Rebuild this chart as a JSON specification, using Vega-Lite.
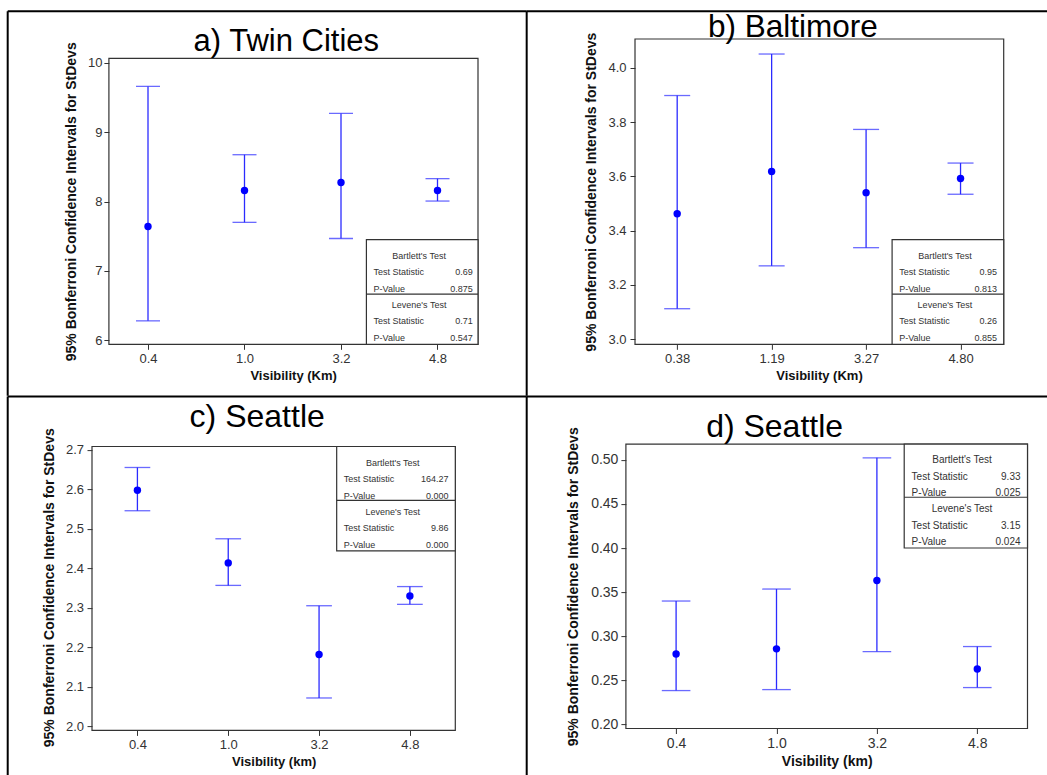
{
  "$schema": "https://vega.github.io/schema/vega-lite/v6.json",
  "background": "white",
  "padding": {"left": 6, "top": 10, "right": 0, "bottom": 0},
  "datasets": {
    "twinCities": [
      {"vis": "0.4", "lower": 6.28, "stdev": 7.64, "upper": 9.66},
      {"vis": "1.0", "lower": 7.70, "stdev": 8.16, "upper": 8.675},
      {"vis": "3.2", "lower": 7.467, "stdev": 8.275, "upper": 9.27},
      {"vis": "4.8", "lower": 8.007, "stdev": 8.158, "upper": 8.33}
    ],
    "baltimore": [
      {"vis": "0.38", "lower": 3.112, "stdev": 3.462, "upper": 3.898},
      {"vis": "1.19", "lower": 3.270, "stdev": 3.618, "upper": 4.051},
      {"vis": "3.27", "lower": 3.337, "stdev": 3.540, "upper": 3.773},
      {"vis": "4.80", "lower": 3.534, "stdev": 3.592, "upper": 3.649}
    ],
    "seattleC": [
      {"vis": "0.4", "lower": 2.546, "stdev": 2.598, "upper": 2.6555},
      {"vis": "1.0", "lower": 2.357, "stdev": 2.414, "upper": 2.475},
      {"vis": "3.2", "lower": 2.072, "stdev": 2.182, "upper": 2.3055},
      {"vis": "4.8", "lower": 2.309, "stdev": 2.330, "upper": 2.354}
    ],
    "seattleD": [
      {"vis": "0.4", "lower": 0.2385, "stdev": 0.280, "upper": 0.340},
      {"vis": "1.0", "lower": 0.2396, "stdev": 0.2858, "upper": 0.3536},
      {"vis": "3.2", "lower": 0.2827, "stdev": 0.3632, "upper": 0.5023},
      {"vis": "4.8", "lower": 0.2419, "stdev": 0.2629, "upper": 0.2884}
    ],
    "twinCitiesTests": [
      {"row": 1, "kind": "head", "label": "Bartlett's Test", "value": ""},
      {"row": 2, "kind": "stat", "label": "Test Statistic", "value": "0.69"},
      {"row": 3, "kind": "stat", "label": "P-Value", "value": "0.875"},
      {"row": 4, "kind": "head", "label": "Levene's Test", "value": ""},
      {"row": 5, "kind": "stat", "label": "Test Statistic", "value": "0.71"},
      {"row": 6, "kind": "stat", "label": "P-Value", "value": "0.547"}
    ],
    "baltimoreTests": [
      {"row": 1, "kind": "head", "label": "Bartlett's Test", "value": ""},
      {"row": 2, "kind": "stat", "label": "Test Statistic", "value": "0.95"},
      {"row": 3, "kind": "stat", "label": "P-Value", "value": "0.813"},
      {"row": 4, "kind": "head", "label": "Levene's Test", "value": ""},
      {"row": 5, "kind": "stat", "label": "Test Statistic", "value": "0.26"},
      {"row": 6, "kind": "stat", "label": "P-Value", "value": "0.855"}
    ],
    "seattleCTests": [
      {"row": 1, "kind": "head", "label": "Bartlett's Test", "value": ""},
      {"row": 2, "kind": "stat", "label": "Test Statistic", "value": "164.27"},
      {"row": 3, "kind": "stat", "label": "P-Value", "value": "0.000"},
      {"row": 4, "kind": "head", "label": "Levene's Test", "value": ""},
      {"row": 5, "kind": "stat", "label": "Test Statistic", "value": "9.86"},
      {"row": 6, "kind": "stat", "label": "P-Value", "value": "0.000"}
    ],
    "seattleDTests": [
      {"row": 1, "kind": "head", "label": "Bartlett's Test", "value": ""},
      {"row": 2, "kind": "stat", "label": "Test Statistic", "value": "9.33"},
      {"row": 3, "kind": "stat", "label": "P-Value", "value": "0.025"},
      {"row": 4, "kind": "head", "label": "Levene's Test", "value": ""},
      {"row": 5, "kind": "stat", "label": "Test Statistic", "value": "3.15"},
      {"row": 6, "kind": "stat", "label": "P-Value", "value": "0.024"}
    ]
  },
  "columns": 2,
  "align": "each",
  "bounds": "flush",
  "spacing": {"row": 99.1, "column": 147.9},
  "concat": [
    {
      "width": 386,
      "height": 305.3,
      "layer": [
        {
          "data": {"name": "twinCities"},
          "encoding": {
            "x": {"field": "vis", "type": "ordinal", "sort": null,
                  "scale": {"type": "point", "paddingOuter": 0.5894, "align": 0.5803},
                  "axis": {"title": "Visibility (Km)", "titleX": 201.1}}
          },
          "layer": [
            {"mark": {"type": "rule", "color": "#2b2bff", "strokeWidth": 1.3},
             "encoding": {
               "y": {"field": "lower", "type": "quantitative",
                     "scale": {"domain": [5.942, 10.343], "nice": false, "zero": false},
                     "axis": {"title": "95% Bonferroni Confidence Intervals for StDevs", "values": [6, 7, 8, 9, 10], "format": "d", "offset": -16.9, "labelPadding": 2, "titleY": 162.3}},
               "y2": {"field": "upper"}}},
            {"mark": {"type": "tick", "color": "#2b2bff", "size": 24, "thickness": 1.3},
             "encoding": {"y": {"field": "upper", "type": "quantitative", "axis": {"title": "95% Bonferroni Confidence Intervals for StDevs"}}}},
            {"mark": {"type": "tick", "color": "#2b2bff", "size": 24, "thickness": 1.3},
             "encoding": {"y": {"field": "lower", "type": "quantitative", "axis": {"title": "95% Bonferroni Confidence Intervals for StDevs"}}}},
            {"mark": {"type": "point", "filled": true, "color": "#0000ff", "opacity": 1, "size": 55},
             "encoding": {"y": {"field": "stdev", "type": "quantitative", "axis": {"title": "95% Bonferroni Confidence Intervals for StDevs"}}}}
          ]
        },
        {
          "data": {"values": [{}]},
          "layer": [
            {"mark": {"type": "rect", "filled": false, "color": "#333333", "strokeWidth": 1.2},
             "encoding": {
               "x": {"datum": 0.0438, "scale": {"domain": [0, 1], "nice": false, "zero": false}, "axis": null},
               "x2": {"datum": 1},
               "y": {"datum": 0.0635, "scale": {"domain": [0, 1], "nice": false, "zero": false, "reverse": true}, "axis": null},
               "y2": {"datum": 1}}},
            {"mark": {"type": "rule", "color": "black", "strokeWidth": 2},
             "encoding": {
               "x": {"datum": -0.2184, "scale": {"domain": [0, 1], "nice": false, "zero": false}, "axis": null},
               "y": {"datum": -0.0907, "scale": {"domain": [0, 1], "nice": false, "zero": false, "reverse": true}, "axis": null},
               "y2": {"datum": 1.1687}}},
            {"mark": {"type": "rule", "color": "black", "strokeWidth": 2},
             "encoding": {
               "x": {"datum": -0.2184, "scale": {"domain": [0, 1], "nice": false, "zero": false}, "axis": null},
               "x2": {"datum": 1.1262},
               "y": {"datum": -0.0907, "scale": {"domain": [0, 1], "nice": false, "zero": false, "reverse": true}, "axis": null}}},
            {"mark": {"type": "text", "text": "a) Twin Cities", "font": "Liberation Sans", "fontSize": 31, "align": "center", "baseline": "alphabetic", "color": "black"},
             "encoding": {
               "x": {"datum": 0.5034, "scale": {"domain": [0, 1], "nice": false, "zero": false}, "axis": null},
               "y": {"datum": 0.0393, "scale": {"domain": [0, 1], "nice": false, "zero": false, "reverse": true}, "axis": null}}}
          ]
        },
        {
          "data": {"name": "twinCitiesTests"},
          "layer": [
            {"data": {"values": [{}]},
             "mark": {"type": "rect", "fill": "white", "stroke": "#333333", "strokeWidth": 1.2},
             "encoding": {
               "x": {"datum": 0.7109, "scale": {"domain": [0, 1], "nice": false, "zero": false}, "axis": null},
               "x2": {"datum": 1},
               "y": {"datum": 0, "scale": {"domain": [-12.269, 6.404], "nice": false, "zero": false, "reverse": true}, "axis": null},
               "y2": {"datum": 6.404}}},
            {"data": {"values": [{}]},
             "mark": {"type": "rule", "color": "#333333", "strokeWidth": 1.2},
             "encoding": {
               "x": {"datum": 0.7109, "scale": {"domain": [0, 1], "nice": false, "zero": false}, "axis": null},
               "x2": {"datum": 1},
               "y": {"datum": 3.33, "scale": {"domain": [-12.269, 6.404], "nice": false, "zero": false, "reverse": true}, "axis": null}}},
            {"transform": [{"filter": "datum.kind === 'head'"}],
             "mark": {"type": "text", "align": "center", "baseline": "middle", "font": "Liberation Sans", "fontSize": 9, "color": "#333333"},
             "encoding": {
               "x": {"datum": 0.8474, "scale": {"domain": [0, 1], "nice": false, "zero": false}, "axis": null},
               "y": {"field": "row", "type": "quantitative", "scale": {"domain": [-12.269, 6.404], "nice": false, "zero": false, "reverse": true}, "axis": null},
               "text": {"field": "label"}}},
            {"transform": [{"filter": "datum.kind === 'stat'"}],
             "mark": {"type": "text", "align": "left", "baseline": "middle", "font": "Liberation Sans", "fontSize": 9, "color": "#333333"},
             "encoding": {
               "x": {"datum": 0.7295, "scale": {"domain": [0, 1], "nice": false, "zero": false}, "axis": null},
               "y": {"field": "row", "type": "quantitative", "scale": {"domain": [-12.269, 6.404], "nice": false, "zero": false, "reverse": true}, "axis": null},
               "text": {"field": "label"}}},
            {"transform": [{"filter": "datum.kind === 'stat'"}],
             "mark": {"type": "text", "align": "right", "baseline": "middle", "font": "Liberation Sans", "fontSize": 9, "color": "#333333"},
             "encoding": {
               "x": {"datum": 0.9865, "scale": {"domain": [0, 1], "nice": false, "zero": false}, "axis": null},
               "y": {"field": "row", "type": "quantitative", "scale": {"domain": [-12.269, 6.404], "nice": false, "zero": false, "reverse": true}, "axis": null},
               "text": {"field": "value"}}}
          ]
        }
      ],
      "resolve": {"scale": {"x": "independent", "y": "independent"}}
    },
    {
      "width": 377.8,
      "height": 305.3,
      "layer": [
        {
          "data": {"name": "baltimore"},
          "encoding": {
            "x": {"field": "vis", "type": "ordinal", "sort": null,
                  "scale": {"type": "point", "paddingOuter": 0.5466, "align": 0.543},
                  "axis": {"title": "Visibility (Km)", "titleX": 193.1}}
          },
          "layer": [
            {"mark": {"type": "rule", "color": "#2b2bff", "strokeWidth": 1.3},
             "encoding": {
               "y": {"field": "lower", "type": "quantitative",
                     "scale": {"domain": [2.9808, 4.1064], "nice": false, "zero": false},
                     "axis": {"title": "95% Bonferroni Confidence Intervals for StDevs", "values": [3.0, 3.2, 3.4, 3.6, 3.8, 4.0], "format": ".1f", "offset": -9.1, "labelPadding": 4}},
               "y2": {"field": "upper"}}},
            {"mark": {"type": "tick", "color": "#2b2bff", "size": 26, "thickness": 1.3},
             "encoding": {"y": {"field": "upper", "type": "quantitative", "axis": {"title": "95% Bonferroni Confidence Intervals for StDevs"}}}},
            {"mark": {"type": "tick", "color": "#2b2bff", "size": 26, "thickness": 1.3},
             "encoding": {"y": {"field": "lower", "type": "quantitative", "axis": {"title": "95% Bonferroni Confidence Intervals for StDevs"}}}},
            {"mark": {"type": "point", "filled": true, "color": "#0000ff", "opacity": 1, "size": 55},
             "encoding": {"y": {"field": "stdev", "type": "quantitative", "axis": {"title": "95% Bonferroni Confidence Intervals for StDevs"}}}}
          ]
        },
        {
          "data": {"values": [{}]},
          "layer": [
            {"mark": {"type": "rect", "filled": false, "color": "#333333", "strokeWidth": 1.2},
             "encoding": {
               "x": {"datum": 0.0241, "scale": {"domain": [0, 1], "nice": false, "zero": false}, "axis": null},
               "x2": {"datum": 1},
               "y": {"datum": 0, "scale": {"domain": [0, 1], "nice": false, "zero": false, "reverse": true}, "axis": null},
               "y2": {"datum": 1}}},
            {"mark": {"type": "rule", "color": "black", "strokeWidth": 2},
             "encoding": {
               "x": {"datum": -0.2626, "scale": {"domain": [0, 1], "nice": false, "zero": false}, "axis": null},
               "y": {"datum": -0.0907, "scale": {"domain": [0, 1], "nice": false, "zero": false, "reverse": true}, "axis": null},
               "y2": {"datum": 1.1687}}},
            {"mark": {"type": "rule", "color": "black", "strokeWidth": 2},
             "encoding": {
               "x": {"datum": -0.2626, "scale": {"domain": [0, 1], "nice": false, "zero": false}, "axis": null},
               "x2": {"datum": 1.1165},
               "y": {"datum": -0.0907, "scale": {"domain": [0, 1], "nice": false, "zero": false, "reverse": true}, "axis": null}}},
            {"mark": {"type": "text", "text": "b) Baltimore", "font": "Liberation Sans", "fontSize": 31.5, "align": "center", "baseline": "alphabetic", "color": "black"},
             "encoding": {
               "x": {"datum": 0.442, "scale": {"domain": [0, 1], "nice": false, "zero": false}, "axis": null},
               "y": {"datum": -0.0079, "scale": {"domain": [0, 1], "nice": false, "zero": false, "reverse": true}, "axis": null}}}
          ]
        },
        {
          "data": {"name": "baltimoreTests"},
          "layer": [
            {"data": {"values": [{}]},
             "mark": {"type": "rect", "fill": "white", "stroke": "#333333", "strokeWidth": 1.2},
             "encoding": {
               "x": {"datum": 0.7046, "scale": {"domain": [0, 1], "nice": false, "zero": false}, "axis": null},
               "x2": {"datum": 1},
               "y": {"datum": 0, "scale": {"domain": [-12.269, 6.404], "nice": false, "zero": false, "reverse": true}, "axis": null},
               "y2": {"datum": 6.404}}},
            {"data": {"values": [{}]},
             "mark": {"type": "rule", "color": "#333333", "strokeWidth": 1.2},
             "encoding": {
               "x": {"datum": 0.7046, "scale": {"domain": [0, 1], "nice": false, "zero": false}, "axis": null},
               "x2": {"datum": 1},
               "y": {"datum": 3.33, "scale": {"domain": [-12.269, 6.404], "nice": false, "zero": false, "reverse": true}, "axis": null}}},
            {"transform": [{"filter": "datum.kind === 'head'"}],
             "mark": {"type": "text", "align": "center", "baseline": "middle", "font": "Liberation Sans", "fontSize": 9, "color": "#333333"},
             "encoding": {
               "x": {"datum": 0.8444, "scale": {"domain": [0, 1], "nice": false, "zero": false}, "axis": null},
               "y": {"field": "row", "type": "quantitative", "scale": {"domain": [-12.269, 6.404], "nice": false, "zero": false, "reverse": true}, "axis": null},
               "text": {"field": "label"}}},
            {"transform": [{"filter": "datum.kind === 'stat'"}],
             "mark": {"type": "text", "align": "left", "baseline": "middle", "font": "Liberation Sans", "fontSize": 9, "color": "#333333"},
             "encoding": {
               "x": {"datum": 0.7234, "scale": {"domain": [0, 1], "nice": false, "zero": false}, "axis": null},
               "y": {"field": "row", "type": "quantitative", "scale": {"domain": [-12.269, 6.404], "nice": false, "zero": false, "reverse": true}, "axis": null},
               "text": {"field": "label"}}},
            {"transform": [{"filter": "datum.kind === 'stat'"}],
             "mark": {"type": "text", "align": "right", "baseline": "middle", "font": "Liberation Sans", "fontSize": 9, "color": "#333333"},
             "encoding": {
               "x": {"datum": 0.9823, "scale": {"domain": [0, 1], "nice": false, "zero": false}, "axis": null},
               "y": {"field": "row", "type": "quantitative", "scale": {"domain": [-12.269, 6.404], "nice": false, "zero": false, "reverse": true}, "axis": null},
               "text": {"field": "value"}}}
          ]
        }
      ],
      "resolve": {"scale": {"x": "independent", "y": "independent"}}
    },
    {
      "width": 363.3,
      "height": 286.3,
      "layer": [
        {
          "data": {"name": "seattleC"},
          "encoding": {
            "x": {"field": "vis", "type": "ordinal", "sort": null,
                  "scale": {"type": "point", "padding": 0.5},
                  "axis": {"title": "Visibility (km)"}}
          },
          "layer": [
            {"mark": {"type": "rule", "color": "#2b2bff", "strokeWidth": 1.3},
             "encoding": {
               "y": {"field": "lower", "type": "quantitative",
                     "scale": {"domain": [1.9899, 2.7147], "nice": false, "zero": false},
                     "axis": {"title": "95% Bonferroni Confidence Intervals for StDevs", "values": [2.0, 2.1, 2.2, 2.3, 2.4, 2.5, 2.6, 2.7], "format": ".1f", "labelPadding": 3.5}},
               "y2": {"field": "upper"}}},
            {"mark": {"type": "tick", "color": "#2b2bff", "size": 25.7, "thickness": 1.3},
             "encoding": {"y": {"field": "upper", "type": "quantitative", "axis": {"title": "95% Bonferroni Confidence Intervals for StDevs"}}}},
            {"mark": {"type": "tick", "color": "#2b2bff", "size": 25.7, "thickness": 1.3},
             "encoding": {"y": {"field": "lower", "type": "quantitative", "axis": {"title": "95% Bonferroni Confidence Intervals for StDevs"}}}},
            {"mark": {"type": "point", "filled": true, "color": "#0000ff", "opacity": 1, "size": 55},
             "encoding": {"y": {"field": "stdev", "type": "quantitative", "axis": {"title": "95% Bonferroni Confidence Intervals for StDevs"}}}}
          ]
        },
        {
          "data": {"values": [{}]},
          "layer": [
            {"mark": {"type": "rect", "filled": false, "color": "#333333", "strokeWidth": 1.2},
             "encoding": {
               "x": {"datum": 0, "scale": {"domain": [0, 1], "nice": false, "zero": false}, "axis": null},
               "x2": {"datum": 1},
               "y": {"datum": 0.0084, "scale": {"domain": [0, 1], "nice": false, "zero": false, "reverse": true}, "axis": null},
               "y2": {"datum": 1}}},
            {"mark": {"type": "rule", "color": "black", "strokeWidth": 2},
             "encoding": {
               "x": {"datum": -0.232, "scale": {"domain": [0, 1], "nice": false, "zero": false}, "axis": null},
               "y": {"datum": -0.1663, "scale": {"domain": [0, 1], "nice": false, "zero": false, "reverse": true}, "axis": null},
               "y2": {"datum": 1.1593}}},
            {"mark": {"type": "rule", "color": "black", "strokeWidth": 2},
             "encoding": {
               "x": {"datum": -0.232, "scale": {"domain": [0, 1], "nice": false, "zero": false}, "axis": null},
               "x2": {"datum": 1.1965},
               "y": {"datum": -0.1663, "scale": {"domain": [0, 1], "nice": false, "zero": false, "reverse": true}, "axis": null}}},
            {"mark": {"type": "text", "text": "c) Seattle", "font": "Liberation Sans", "fontSize": 32, "align": "center", "baseline": "alphabetic", "color": "black"},
             "encoding": {
               "x": {"datum": 0.4547, "scale": {"domain": [0, 1], "nice": false, "zero": false}, "axis": null},
               "y": {"datum": -0.0611, "scale": {"domain": [0, 1], "nice": false, "zero": false, "reverse": true}, "axis": null}}}
          ]
        },
        {
          "data": {"name": "seattleCTests"},
          "layer": [
            {"data": {"values": [{}]},
             "mark": {"type": "rect", "fill": "white", "stroke": "#333333", "strokeWidth": 1.2},
             "encoding": {
               "x": {"datum": 0.6735, "scale": {"domain": [0, 1], "nice": false, "zero": false}, "axis": null},
               "x2": {"datum": 1},
               "y": {"datum": 0, "scale": {"domain": [-0.147, 17.364], "nice": false, "zero": false, "reverse": true}, "axis": null},
               "y2": {"datum": 6.385}}},
            {"data": {"values": [{}]},
             "mark": {"type": "rule", "color": "#333333", "strokeWidth": 1.2},
             "encoding": {
               "x": {"datum": 0.6735, "scale": {"domain": [0, 1], "nice": false, "zero": false}, "axis": null},
               "x2": {"datum": 1},
               "y": {"datum": 3.3, "scale": {"domain": [-0.147, 17.364], "nice": false, "zero": false, "reverse": true}, "axis": null}}},
            {"transform": [{"filter": "datum.kind === 'head'"}],
             "mark": {"type": "text", "align": "center", "baseline": "middle", "font": "Liberation Sans", "fontSize": 9, "color": "#333333"},
             "encoding": {
               "x": {"datum": 0.8277, "scale": {"domain": [0, 1], "nice": false, "zero": false}, "axis": null},
               "y": {"field": "row", "type": "quantitative", "scale": {"domain": [-0.147, 17.364], "nice": false, "zero": false, "reverse": true}, "axis": null},
               "text": {"field": "label"}}},
            {"transform": [{"filter": "datum.kind === 'stat'"}],
             "mark": {"type": "text", "align": "left", "baseline": "middle", "font": "Liberation Sans", "fontSize": 9, "color": "#333333"},
             "encoding": {
               "x": {"datum": 0.6931, "scale": {"domain": [0, 1], "nice": false, "zero": false}, "axis": null},
               "y": {"field": "row", "type": "quantitative", "scale": {"domain": [-0.147, 17.364], "nice": false, "zero": false, "reverse": true}, "axis": null},
               "text": {"field": "label"}}},
            {"transform": [{"filter": "datum.kind === 'stat'"}],
             "mark": {"type": "text", "align": "right", "baseline": "middle", "font": "Liberation Sans", "fontSize": 9, "color": "#333333"},
             "encoding": {
               "x": {"datum": 0.9815, "scale": {"domain": [0, 1], "nice": false, "zero": false}, "axis": null},
               "y": {"field": "row", "type": "quantitative", "scale": {"domain": [-0.147, 17.364], "nice": false, "zero": false, "reverse": true}, "axis": null},
               "text": {"field": "value"}}}
          ]
        }
      ],
      "resolve": {"scale": {"x": "independent", "y": "independent"}}
    },
    {
      "width": 401.6,
      "height": 284.4,
      "layer": [
        {
          "data": {"name": "seattleD"},
          "encoding": {
            "x": {"field": "vis", "type": "ordinal", "sort": null,
                  "scale": {"type": "point", "padding": 0.5},
                  "axis": {"title": "Visibility (km)", "labelFontSize": 14, "titleFontSize": 14}}
          },
          "layer": [
            {"mark": {"type": "rule", "color": "#2b2bff", "strokeWidth": 1.3},
             "encoding": {
               "y": {"field": "lower", "type": "quantitative",
                     "scale": {"domain": [0.1955, 0.5179], "nice": false, "zero": false},
                     "axis": {"title": "95% Bonferroni Confidence Intervals for StDevs", "values": [0.2, 0.25, 0.3, 0.35, 0.4, 0.45, 0.5], "format": ".2f", "labelFontSize": 14, "labelPadding": 3, "titlePadding": 10}},
               "y2": {"field": "upper"}}},
            {"mark": {"type": "tick", "color": "#2b2bff", "size": 28.6, "thickness": 1.3},
             "encoding": {"y": {"field": "upper", "type": "quantitative", "axis": {"title": "95% Bonferroni Confidence Intervals for StDevs"}}}},
            {"mark": {"type": "tick", "color": "#2b2bff", "size": 28.6, "thickness": 1.3},
             "encoding": {"y": {"field": "lower", "type": "quantitative", "axis": {"title": "95% Bonferroni Confidence Intervals for StDevs"}}}},
            {"mark": {"type": "point", "filled": true, "color": "#0000ff", "opacity": 1, "size": 55},
             "encoding": {"y": {"field": "stdev", "type": "quantitative", "axis": {"title": "95% Bonferroni Confidence Intervals for StDevs"}}}}
          ]
        },
        {
          "data": {"values": [{}]},
          "layer": [
            {"mark": {"type": "rect", "filled": false, "color": "#333333", "strokeWidth": 1.2},
             "encoding": {
               "x": {"datum": 0, "scale": {"domain": [0, 1], "nice": false, "zero": false}, "axis": null},
               "x2": {"datum": 1},
               "y": {"datum": 0, "scale": {"domain": [0, 1], "nice": false, "zero": false, "reverse": true}, "axis": null},
               "y2": {"datum": 1}}},
            {"mark": {"type": "rule", "color": "black", "strokeWidth": 2},
             "encoding": {
               "x": {"datum": -0.247, "scale": {"domain": [0, 1], "nice": false, "zero": false}, "axis": null},
               "y": {"datum": -0.1674, "scale": {"domain": [0, 1], "nice": false, "zero": false, "reverse": true}, "axis": null},
               "y2": {"datum": 1.167}}},
            {"mark": {"type": "rule", "color": "black", "strokeWidth": 2},
             "encoding": {
               "x": {"datum": -0.247, "scale": {"domain": [0, 1], "nice": false, "zero": false}, "axis": null},
               "x2": {"datum": 1.0503},
               "y": {"datum": -0.1674, "scale": {"domain": [0, 1], "nice": false, "zero": false, "reverse": true}, "axis": null}}},
            {"mark": {"type": "text", "text": "d) Seattle", "font": "Liberation Sans", "fontSize": 32, "align": "center", "baseline": "alphabetic", "color": "black"},
             "encoding": {
               "x": {"datum": 0.3703, "scale": {"domain": [0, 1], "nice": false, "zero": false}, "axis": null},
               "y": {"datum": -0.0246, "scale": {"domain": [0, 1], "nice": false, "zero": false, "reverse": true}, "axis": null}}}
          ]
        },
        {
          "data": {"name": "seattleDTests"},
          "layer": [
            {"data": {"values": [{}]},
             "mark": {"type": "rect", "fill": "white", "stroke": "#333333", "strokeWidth": 1.2},
             "encoding": {
               "x": {"datum": 0.693, "scale": {"domain": [0, 1], "nice": false, "zero": false}, "axis": null},
               "x2": {"datum": 1},
               "y": {"datum": 0, "scale": {"domain": [0, 17.395], "nice": false, "zero": false, "reverse": true}, "axis": null},
               "y2": {"datum": 6.355}}},
            {"data": {"values": [{}]},
             "mark": {"type": "rule", "color": "#333333", "strokeWidth": 1.2},
             "encoding": {
               "x": {"datum": 0.693, "scale": {"domain": [0, 1], "nice": false, "zero": false}, "axis": null},
               "x2": {"datum": 1},
               "y": {"datum": 3.25, "scale": {"domain": [0, 17.395], "nice": false, "zero": false, "reverse": true}, "axis": null}}},
            {"transform": [{"filter": "datum.kind === 'head'"}],
             "mark": {"type": "text", "align": "center", "baseline": "middle", "font": "Liberation Sans", "fontSize": 10, "color": "#333333"},
             "encoding": {
               "x": {"datum": 0.8369, "scale": {"domain": [0, 1], "nice": false, "zero": false}, "axis": null},
               "y": {"field": "row", "type": "quantitative", "scale": {"domain": [0, 17.395], "nice": false, "zero": false, "reverse": true}, "axis": null},
               "text": {"field": "label"}}},
            {"transform": [{"filter": "datum.kind === 'stat'"}],
             "mark": {"type": "text", "align": "left", "baseline": "middle", "font": "Liberation Sans", "fontSize": 10, "color": "#333333"},
             "encoding": {
               "x": {"datum": 0.7114, "scale": {"domain": [0, 1], "nice": false, "zero": false}, "axis": null},
               "y": {"field": "row", "type": "quantitative", "scale": {"domain": [0, 17.395], "nice": false, "zero": false, "reverse": true}, "axis": null},
               "text": {"field": "label"}}},
            {"transform": [{"filter": "datum.kind === 'stat'"}],
             "mark": {"type": "text", "align": "right", "baseline": "middle", "font": "Liberation Sans", "fontSize": 10, "color": "#333333"},
             "encoding": {
               "x": {"datum": 0.9826, "scale": {"domain": [0, 1], "nice": false, "zero": false}, "axis": null},
               "y": {"field": "row", "type": "quantitative", "scale": {"domain": [0, 17.395], "nice": false, "zero": false, "reverse": true}, "axis": null},
               "text": {"field": "value"}}}
          ]
        }
      ],
      "resolve": {"scale": {"x": "independent", "y": "independent"}}
    }
  ],
  "config": {
    "view": {"stroke": null},
    "font": "Liberation Sans",
    "axis": {
      "domain": false,
      "grid": false,
      "tickColor": "#333333",
      "tickSize": 5,
      "tickWidth": 1,
      "labelFont": "Liberation Sans",
      "labelFontSize": 13,
      "labelColor": "#333333",
      "titleFont": "Liberation Sans",
      "titleFontSize": 13,
      "titleFontWeight": "bold",
      "titleColor": "#111111"
    },
    "axisX": {"labelAngle": 0, "labelPadding": 3, "titlePadding": 4},
    "axisY": {"labelPadding": 3, "titlePadding": 9, "titleFontSize": 14}
  }
}
